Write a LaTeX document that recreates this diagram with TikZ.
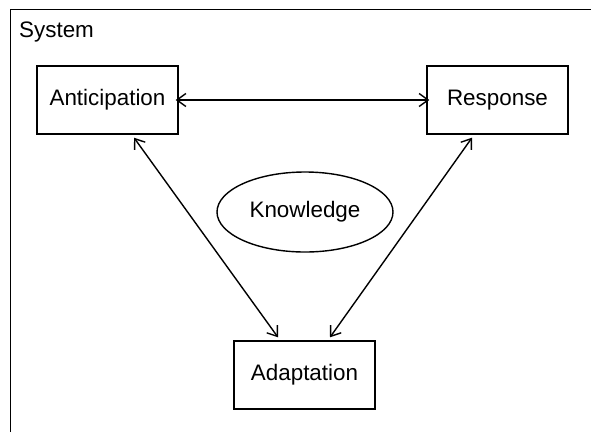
\documentclass[tikz,border=0pt]{standalone}
\usepackage{fontspec}
\setmainfont{Liberation Sans}
\usetikzlibrary{shapes.geometric,arrows.meta}
\begin{document}
\begin{tikzpicture}[x=1pt,y=-1pt,
  box/.style={draw,line width=1.4pt,minimum width=141pt,minimum height=68pt,inner sep=0pt,font=\fontsize{22.4}{26}\selectfont},
  oval/.style={draw,ellipse,line width=1.4pt,minimum width=176pt,minimum height=80pt,inner sep=0pt,font=\fontsize{22.4}{26}\selectfont},
  link/.style={line width=1.4pt,{Straight Barb[length=9pt,width=13pt,line width=1.4pt]}-{Straight Barb[length=9pt,width=13pt,line width=1.4pt]}}
]
\useasboundingbox (0,0) rectangle (591,432);
\draw[line width=1.6pt] (10.5,432) -- (10.5,9.5) -- (591,9.5);
\node[anchor=base west,inner sep=0pt,font=\fontsize{22.4}{26}\selectfont] (sys) at (19,37) {System};
\node[box] (ant) at (107.5,100) {Anticipation};
\node[box] (res) at (497.5,100) {Response};
\node[box] (ada) at (304.5,375) {Adaptation};
\node[oval] (kno) at (305,212) {Knowledge};
\draw[link] ([xshift=-3pt]ant.east) -- ([xshift=3pt]res.west);
\draw[link] ([xshift=26.5pt,yshift=-3pt]ant.south) -- ([xshift=-26.5pt,yshift=3pt]ada.north);
\draw[link] ([xshift=-25.5pt,yshift=-3pt]res.south) -- ([xshift=25.5pt,yshift=3pt]ada.north);
\end{tikzpicture}
\end{document}
